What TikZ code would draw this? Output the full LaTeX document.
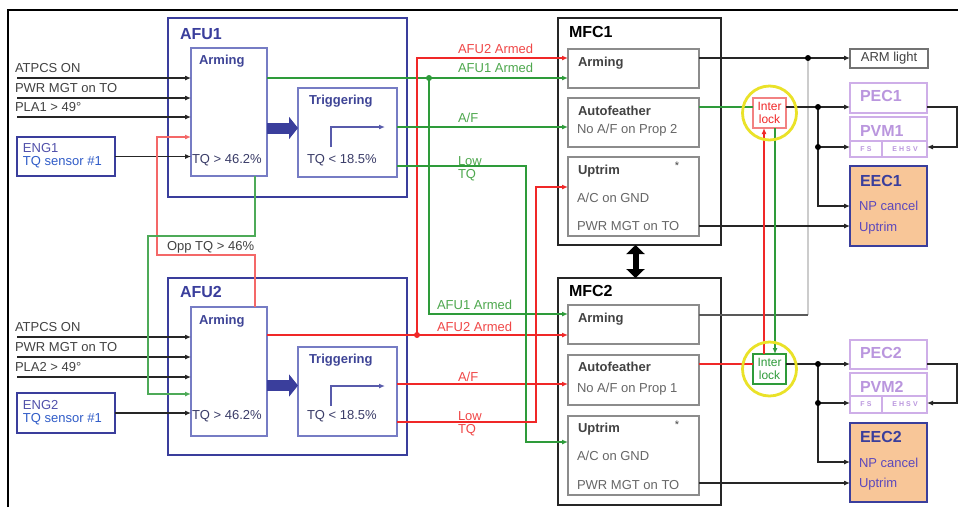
\documentclass[tikz,border=0pt]{standalone}
\usepackage{fontspec}
\setmainfont{Liberation Sans}
\usetikzlibrary{arrows.meta,positioning}
\definecolor{afublue}{RGB}{58,62,156}
\definecolor{boxblue}{RGB}{118,124,196}
\definecolor{txtblue}{RGB}{62,68,150}
\definecolor{tqgrey}{RGB}{58,60,104}
\definecolor{sensblue}{RGB}{48,92,200}
\definecolor{engpurple}{RGB}{80,80,170}
\definecolor{sigred}{RGB}{240,40,40}
\definecolor{siggreen}{RGB}{46,155,58}
\definecolor{lblred}{RGB}{240,72,72}
\definecolor{lblgreen}{RGB}{78,168,78}
\definecolor{lockred}{RGB}{242,130,130}
\definecolor{lav}{RGB}{206,174,232}
\definecolor{lavtxt}{RGB}{186,150,222}
\definecolor{eecfill}{RGB}{248,198,152}
\definecolor{npblue}{RGB}{92,72,188}
\definecolor{ringyel}{RGB}{234,226,40}
\definecolor{darkgr}{RGB}{66,66,66}

\begin{document}
\begin{tikzpicture}[
    x=1pt, y=-1pt,
    every node/.style={inner sep=0pt, outer sep=0pt, font=\fontsize{13}{15}\selectfont},
    afubox/.style={draw=afublue, line width=2.4pt, minimum width=239pt, anchor=north west},
    unitbox/.style={draw=boxblue, line width=1.4pt, anchor=north west},
    engbox/.style={draw=afublue, line width=1.6pt, minimum width=98pt, anchor=north west},
    mfcbox/.style={draw=black!85, line width=2.2pt, minimum width=163pt, minimum height=227pt, anchor=north west},
    subbox/.style={draw=black!45, line width=1.4pt, minimum width=131pt, anchor=north west},
    lockbox/.style={line width=1.2pt, minimum width=33pt, minimum height=30pt, align=center, font=\fontsize{12}{13}\selectfont, anchor=north west},
    ring/.style={draw=ringyel, line width=2.8pt, circle, minimum size=54pt},
    lavbox/.style={draw=lav, line width=1.5pt, minimum width=77pt, anchor=north west},
    eecbox/.style={draw=afublue, fill=eecfill, line width=2.4pt, minimum width=77pt, minimum height=80pt, anchor=north west},
    lightbox/.style={draw=black!55, line width=1.2pt, minimum width=78pt, minimum height=19pt, text=darkgr, anchor=north west},
    unittitle/.style={font=\fontsize{16}{18}\selectfont\bfseries},
    hdtxt/.style={font=\fontsize{13}{15}\selectfont\bfseries},
    lavtitle/.style={font=\fontsize{16}{18}\selectfont\bfseries, text=lavtxt},
    tinytxt/.style={font=\fontsize{7}{8}\selectfont\bfseries\addfontfeature{LetterSpace=30}, text=lavtxt},
    twoline/.style={align=left, font=\fontsize{13}{13}\selectfont, anchor=north west},
    inlbl/.style={text=darkgr},
    sig/.style={draw=black!85, line width=1.1pt, -{Latex[length=6pt,width=5pt]}},
    gsig/.style={draw=siggreen, line width=1.6pt, -{Latex[length=6pt,width=5pt]}},
    rsig/.style={draw=sigred, line width=1.6pt, -{Latex[length=6pt,width=5pt]}},
    oppred/.style={draw=sigred!70, line width=1.2pt, -{Latex[length=6pt,width=5pt]}},
    oppgreen/.style={draw=siggreen!85, line width=1.2pt, -{Latex[length=6pt,width=5pt]}},
    junction/.style={circle, fill=black, minimum size=6pt},
    bigarrow/.style={draw=afublue, line width=11pt, -{Triangle[length=9pt,width=22pt]}},
    steparrow/.style={draw=afublue!85, line width=1.2pt, -{Latex[length=6pt,width=5pt]}},
    dblarrow/.style={draw=black, line width=6pt, {Triangle[length=9pt,width=18pt]}-{Triangle[length=9pt,width=18pt]}}
]
\fill[white, use as bounding box] (0,0) rectangle (958,507);
\draw[line width=2pt] (8,507) -- (8,10) -- (958,10);

\node[afubox, minimum height=179pt] (afu1) at (168,18) {};
\node[unittitle, text=afublue, below right=10pt and 12pt of afu1.north west] (afu1t) {AFU1};
\node[unitbox, minimum width=76pt, minimum height=128pt] (arm1) at (191,48) {};
\node[hdtxt, text=txtblue, below right=7pt and 8pt of arm1.north west] (arm1t) {Arming};
\node[text=tqgrey, below right=106pt and 1pt of arm1.north west] (arm1tq) {TQ > 46.2\%};
\node[unitbox, minimum width=99pt, minimum height=89pt] (trig1) at (298,88) {};
\node[hdtxt, text=txtblue, below right=7pt and 11pt of trig1.north west] (trig1t) {Triggering};
\node[text=tqgrey, below right=66pt and 9pt of trig1.north west] (trig1tq) {TQ < 18.5\%};
\node[engbox, minimum height=39pt] (eng1) at (17,137) {};
\node[twoline, text=sensblue, font=\fontsize{13}{13.4}\selectfont, below right=6pt and 6pt of eng1.north west] (eng1t) {\textcolor{engpurple}{ENG1}\\TQ sensor \#1};

\node[afubox, minimum height=177pt] (afu2) at (168,278) {};
\node[unittitle, text=afublue, below right=8.7pt and 12pt of afu2.north west] (afu2t) {AFU2};
\node[unitbox, minimum width=76pt, minimum height=129pt] (arm2) at (191,307) {};
\node[hdtxt, text=txtblue, below right=8pt and 8pt of arm2.north west] (arm2t) {Arming};
\node[text=tqgrey, below right=103pt and 1pt of arm2.north west] (arm2tq) {TQ > 46.2\%};
\node[unitbox, minimum width=99pt, minimum height=89pt] (trig2) at (298,347) {};
\node[hdtxt, text=txtblue, below right=7.3pt and 11pt of trig2.north west] (trig2t) {Triggering};
\node[text=tqgrey, below right=63pt and 9pt of trig2.north west] (trig2tq) {TQ < 18.5\%};
\node[engbox, minimum height=40pt] (eng2) at (17,393) {};
\node[twoline, text=sensblue, font=\fontsize{13}{13.4}\selectfont, below right=7pt and 6pt of eng2.north west] (eng2t) {\textcolor{engpurple}{ENG2}\\TQ sensor \#1};

\node[mfcbox] (mfc1) at (558,18) {};
\node[unittitle, below right=8.7pt and 11pt of mfc1.north west] (mfc1t) {MFC1};
\node[subbox, minimum height=39pt] (m1arm) at (568,49) {};
\node[hdtxt, text=darkgr, below right=7.7pt and 10pt of m1arm.north west] (m1armt) {Arming};
\node[subbox, minimum height=49pt] (m1af) at (568,98) {};
\node[hdtxt, text=darkgr, below right=8pt and 10pt of m1af.north west] (m1aft) {Autofeather};
\node[text=black!60, below right=26pt and 9pt of m1af.north west] (m1afx) {No A/F on Prop 2};
\node[subbox, minimum height=79pt] (m1up) at (568,157) {};
\node[hdtxt, text=darkgr, below right=8pt and 10pt of m1up.north west] (m1upt) {Uptrim};
\node[font=\fontsize{11}{12}\selectfont, text=darkgr, anchor=north] (m1star) at ([shift={(109,5)}]m1up.north west) {*};
\node[text=black!60, below right=35.7pt and 9pt of m1up.north west] (m1gnd) {A/C on GND};
\node[text=black!60, below right=64.7pt and 9pt of m1up.north west] (m1pwr) {PWR MGT on TO};

\node[mfcbox] (mfc2) at (558,278) {};
\node[unittitle, below right=7.7pt and 11pt of mfc2.north west] (mfc2t) {MFC2};
\node[subbox, minimum height=39pt] (m2arm) at (568,305) {};
\node[hdtxt, text=darkgr, below right=7.7pt and 10pt of m2arm.north west] (m2armt) {Arming};
\node[subbox, minimum height=50pt] (m2af) at (568,355) {};
\node[hdtxt, text=darkgr, below right=6.7pt and 10pt of m2af.north west] (m2aft) {Autofeather};
\node[text=black!60, below right=27.7pt and 9pt of m2af.north west] (m2afx) {No A/F on Prop 1};
\node[subbox, minimum height=79pt] (m2up) at (568,416) {};
\node[hdtxt, text=darkgr, below right=7.3pt and 10pt of m2up.north west] (m2upt) {Uptrim};
\node[font=\fontsize{11}{12}\selectfont, text=darkgr, anchor=north] (m2star) at ([shift={(109,5)}]m2up.north west) {*};
\node[text=black!60, below right=35pt and 9pt of m2up.north west] (m2gnd) {A/C on GND};
\node[text=black!60, below right=64.7pt and 9pt of m2up.north west] (m2pwr) {PWR MGT on TO};

\node[lockbox, draw=lockred, text=sigred] (lock1) at (753,98) {Inter\\lock};
\node[lockbox, draw=siggreen, text=siggreen] (lock2) at (753,354) {Inter\\lock};

\node[lightbox] (armlight) at (850,49) {ARM light};
\node[lavbox, minimum height=30pt] (pec1) at (850,83) {};
\node[lavtitle, below right=7pt and 10pt of pec1.north west] (pec1t) {PEC1};
\node[lavbox, minimum height=40pt, below=4pt of pec1] (pvm1) {};
\node[lavtitle, below right=8pt and 10pt of pvm1.north west] (pvm1t) {PVM1};
\node[eecbox, below=9pt of pvm1] (eec1) {};
\node[unittitle, text=afublue, below right=9.7pt and 10pt of eec1.north west] (eec1t) {EEC1};
\node[text=npblue, below right=35pt and 9pt of eec1.north west] (eec1np) {NP cancel};
\node[text=npblue, below right=55.7pt and 9pt of eec1.north west] (eec1up) {Uptrim};

\node[lavbox, minimum height=29pt] (pec2) at (850,340) {};
\node[lavtitle, below right=7.3pt and 10pt of pec2.north west] (pec2t) {PEC2};
\node[lavbox, minimum height=40pt, below=4pt of pec2] (pvm2) {};
\node[lavtitle, below right=8.7pt and 10pt of pvm2.north west] (pvm2t) {PVM2};
\node[eecbox, minimum height=79pt, below=10pt of pvm2] (eec2) {};
\node[unittitle, text=afublue, below right=8.7pt and 10pt of eec2.north west] (eec2t) {EEC2};
\node[text=npblue, below right=35.3pt and 9pt of eec2.north west] (eec2np) {NP cancel};
\node[text=npblue, below right=55.3pt and 9pt of eec2.north west] (eec2up) {Uptrim};

\draw[draw=lav, line width=1.2pt] ([shift={(0,24)}]pvm1.north west) -- ([shift={(0,24)}]pvm1.north east);
\draw[draw=lav, line width=1.2pt] ([shift={(32,24)}]pvm1.north west) -- ([xshift=32pt]pvm1.south west);
\node[tinytxt] (pvm1fs) at ([shift={(16,32)}]pvm1.north west) {FS};
\node[tinytxt] (pvm1eh) at ([shift={(55,32)}]pvm1.north west) {EHSV};
\draw[draw=lav, line width=1.2pt] ([shift={(0,23)}]pvm2.north west) -- ([shift={(0,23)}]pvm2.north east);
\draw[draw=lav, line width=1.2pt] ([shift={(32,23)}]pvm2.north west) -- ([xshift=32pt]pvm2.south west);
\node[tinytxt] (pvm2fs) at ([shift={(16,31.5)}]pvm2.north west) {FS};
\node[tinytxt] (pvm2eh) at ([shift={(55,31.5)}]pvm2.north west) {EHSV};

\coordinate (a1in1) at (17,78);
\coordinate (a1in2) at (17,98);
\coordinate (a1in3) at (17,117);
\draw[sig] (a1in1) -- (a1in1 -| arm1.west);
\draw[sig] (a1in2) -- (a1in2 -| arm1.west);
\draw[sig] (a1in3) -- (a1in3 -| arm1.west);
\node[inlbl, above right=5pt and -2pt of a1in1] (a1l1) {ATPCS ON};
\node[inlbl, above right=5pt and -2pt of a1in2] (a1l2) {PWR MGT on TO};
\node[inlbl, above right=5pt and -2pt of a1in3] (a1l3) {PLA1 > 49°};
\draw[sig] (eng1) -- (eng1 -| arm1.west);

\coordinate (a2in1) at (17,337);
\coordinate (a2in2) at (17,357);
\coordinate (a2in3) at (17,377);
\draw[sig] (a2in1) -- (a2in1 -| arm2.west);
\draw[sig] (a2in2) -- (a2in2 -| arm2.west);
\draw[sig] (a2in3) -- (a2in3 -| arm2.west);
\node[inlbl, above right=5pt and -2pt of a2in1] (a2l1) {ATPCS ON};
\node[inlbl, above right=5pt and -2pt of a2in2] (a2l2) {PWR MGT on TO};
\node[inlbl, above right=5pt and -2pt of a2in3] (a2l3) {PLA2 > 49°};
\draw[sig] (eng2) -- (eng2 -| arm2.west);

\coordinate (big1) at ([shift={(0,16)}]arm1.east);
\draw[bigarrow] (big1) -- (big1 -| trig1.west);
\coordinate (big2) at ([shift={(0,14)}]arm2.east);
\draw[bigarrow] (big2) -- (big2 -| trig2.west);
\draw[steparrow] ([shift={(33,-30)}]trig1.south west) |- ([shift={(87,-50)}]trig1.south west);
\draw[steparrow] ([shift={(33,-30)}]trig2.south west) |- ([shift={(87,-50)}]trig2.south west);

\draw[oppred] ([xshift=-12pt]arm2.north east) |- (157,255) |- ([shift={(0,89)}]arm1.north west);
\draw[oppgreen] ([xshift=-12pt]arm1.south east) |- (148,236) |- ([shift={(0,87)}]arm2.north west);
\node[inlbl, anchor=west] (opplbl) at (167,247) {Opp TQ > 46\%};

\coordinate (jA1) at (429,78);
\coordinate (jA2) at (417,335);
\draw[gsig] ([shift={(0,30)}]arm1.north east) -- ([shift={(0,29)}]m1arm.north west);
\draw[gsig] (jA1) |- ([shift={(0,9)}]m2arm.north west);
\draw[rsig] ([shift={(0,28)}]arm2.north east) -- ([shift={(0,30)}]m2arm.north west);
\draw[rsig] (jA2) |- ([shift={(0,9)}]m1arm.north west);
\draw[gsig] ([shift={(0,39)}]trig1.north east) -- ([shift={(0,29)}]m1af.north west);
\draw[rsig] ([shift={(0,37)}]trig2.north east) -- ([shift={(0,29)}]m2af.north west);
\draw[gsig] ([shift={(0,78)}]trig1.north east) -| ([shift={(-42,26)}]m2up.north west) -- ([shift={(0,26)}]m2up.north west);
\draw[rsig] ([shift={(0,75)}]trig2.north east) -| ([shift={(-32,30)}]m1up.north west) -- ([shift={(0,30)}]m1up.north west);
\node[junction, fill=siggreen] (dA1) at (jA1) {};
\node[junction, fill=sigred] (dA2) at (jA2) {};

\node[text=lblred, anchor=base west] (lb1) at (458,53.5) {AFU2 Armed};
\node[text=lblgreen, anchor=base west] (lb2) at (458,72.5) {AFU1 Armed};
\node[text=lblgreen, anchor=base west] (lb3) at (458,122.5) {A/F};
\node[twoline, text=lblgreen] (lb4) at (458,157) {Low\\TQ};
\node[text=lblgreen, anchor=base west] (lb5) at (437,309.5) {AFU1 Armed};
\node[text=lblred, anchor=base west] (lb6) at (437,331.5) {AFU2 Armed};
\node[text=lblred, anchor=base west] (lb7) at (458,381) {A/F};
\node[twoline, text=lblred] (lb8) at (458,412) {Low\\TQ};

\draw[dblarrow] ([xshift=-4pt]mfc1.south) -- ([xshift=-4pt]mfc2.north);

\coordinate (jArm) at (808,58);
\coordinate (jArm2) at (808,315);
\draw[sig] ([shift={(0,9)}]m1arm.north east) -- ([shift={(0,9)}]armlight.north west);
\draw[draw=black!20, line width=1.1pt] (jArm) -- (jArm2);
\draw[draw=black!65, line width=1.1pt] ([shift={(0,10)}]m2arm.north east) -- (jArm2);
\node[junction] (dArm) at (jArm) {};

\draw[draw=siggreen, line width=1.6pt] ([shift={(0,9)}]m1af.north east) -- ([shift={(0,9)}]lock1.north west);
\draw[sig] ([shift={(0,9)}]lock1.north east) -- ([shift={(0,24)}]pec1.north west);
\coordinate (jP1) at (818,107);
\coordinate (jV1) at (818,147);
\draw[sig] (jP1) |- ([shift={(0,40)}]eec1.north west);
\draw[sig] (jV1) -- ([shift={(0,30)}]pvm1.north west);
\draw[sig] ([shift={(0,24)}]pec1.north east) -- (957,107) |- ([shift={(0,30)}]pvm1.north east);
\draw[sig] ([shift={(0,69)}]m1up.north east) -- ([shift={(0,60)}]eec1.north west);
\node[junction] (dP1) at (jP1) {};
\node[junction] (dV1) at (jV1) {};

\draw[draw=sigred, line width=1.1pt] ([shift={(0,9)}]m2af.north east) -- ([shift={(0,10)}]lock2.north west);
\draw[sig] ([shift={(0,10)}]lock2.north east) -- ([shift={(0,24)}]pec2.north west);
\coordinate (jP2) at (818,364);
\coordinate (jV2) at (818,403);
\draw[sig] (jP2) |- ([shift={(0,39)}]eec2.north west);
\draw[sig] (jV2) -- ([shift={(0,30)}]pvm2.north west);
\draw[sig] ([shift={(0,24)}]pec2.north east) -- (957,364) |- ([shift={(0,30)}]pvm2.north east);
\draw[sig] ([shift={(0,67)}]m2up.north east) -- ([shift={(0,60)}]eec2.north west);
\node[junction] (dP2) at (jP2) {};
\node[junction] (dV2) at (jV2) {};

\draw[rsig] ([xshift=-5.5pt]lock2.north) -- ([xshift=-5.5pt]lock1.south);
\draw[gsig] ([xshift=5.5pt]lock1.south) -- ([xshift=5.5pt]lock2.north);
\node[ring] (ring1) at (lock1.center) {};
\node[ring] (ring2) at (lock2.center) {};
\end{tikzpicture}
\end{document}
